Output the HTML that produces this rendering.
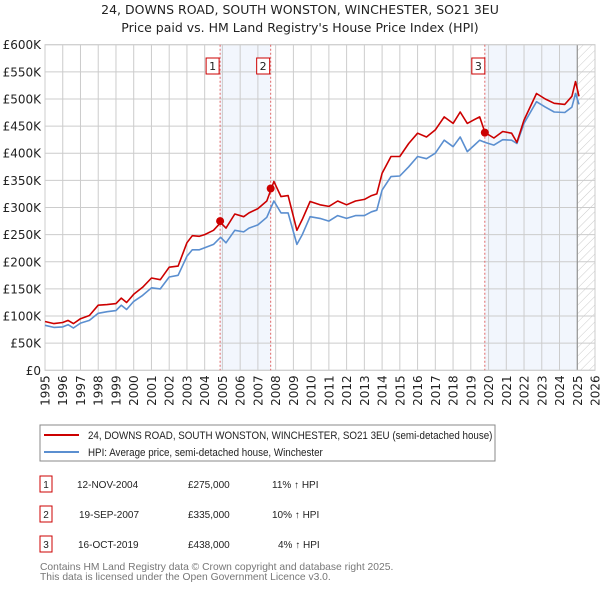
<!DOCTYPE html>
<html><head><meta charset="utf-8"><style>
body{margin:0;background:#fff;font-family:"Liberation Sans","DejaVu Sans",sans-serif;}
svg text{font-family:"DejaVu Sans","Liberation Sans",sans-serif;}
svg text.lib{font-family:"Liberation Sans","DejaVu Sans",sans-serif;}
</style></head><body>
<svg id="c" width="600" height="590" xmlns="http://www.w3.org/2000/svg">
<defs><pattern id="hatch" width="6" height="6" patternUnits="userSpaceOnUse" patternTransform="rotate(45)"><line x1="0" y1="0" x2="0" y2="6" stroke="#ccc" stroke-width="1"/></pattern></defs>
<text x="300" y="14" text-anchor="middle" font-size="12.5" fill="#222">24, DOWNS ROAD, SOUTH WONSTON, WINCHESTER, SO21 3EU</text>
<text x="300" y="32" text-anchor="middle" font-size="12.5" fill="#222">Price paid vs. HM Land Registry's House Price Index (HPI)</text>
<g id="plot"></g>
<rect x="40" y="425" width="455" height="36" fill="#fff" stroke="#888"/>
<line x1="44" y1="435" x2="79" y2="435" stroke="#cc0000" stroke-width="2"/>
<text class="lib" x="88" y="439" font-size="9.8" fill="#222" style="font-size:9.8px;transform:scaleY(1.12);transform-origin:88px 439px">24, DOWNS ROAD, SOUTH WONSTON, WINCHESTER, SO21 3EU (semi-detached house)</text>
<line x1="44" y1="452" x2="79" y2="452" stroke="#5b8fd0" stroke-width="2"/>
<text class="lib" x="88" y="456" font-size="9.8" fill="#222" style="font-size:9.8px;transform:scaleY(1.12);transform-origin:88px 456px">HPI: Average price, semi-detached house, Winchester</text>
<g font-size="10" fill="#222">
<g><rect x="40" y="476" width="12" height="16" fill="#fff" stroke="#cc0000"/><text class="lib" x="46" y="488" text-anchor="middle">1</text><text class="lib" x="77" y="488">12-NOV-2004</text><text class="lib" x="188" y="488">£275,000</text><text class="lib" x="272" y="488">11% ↑ HPI</text></g>
<g><rect x="40" y="506" width="12" height="16" fill="#fff" stroke="#cc0000"/><text class="lib" x="46" y="518" text-anchor="middle">2</text><text class="lib" x="79" y="518">19-SEP-2007</text><text class="lib" x="188" y="518">£335,000</text><text class="lib" x="272" y="518">10% ↑ HPI</text></g>
<g><rect x="40" y="536" width="12" height="16" fill="#fff" stroke="#cc0000"/><text class="lib" x="46" y="548" text-anchor="middle">3</text><text class="lib" x="78" y="548">16-OCT-2019</text><text class="lib" x="188" y="548">£438,000</text><text class="lib" x="278" y="548">4% ↑ HPI</text></g>
</g>
<text class="lib" x="40" y="570" font-size="10.3" fill="#777">Contains HM Land Registry data © Crown copyright and database right 2025.</text>
<text class="lib" x="40" y="580" font-size="10.3" fill="#777">This data is licensed under the Open Government Licence v3.0.</text>
</svg>
<script>
const yearsX=[1995.0,1995.5,1996.0,1996.3,1996.6,1997.0,1997.5,1998.0,1998.5,1999.0,1999.3,1999.6,2000.0,2000.5,2001.0,2001.5,2002.0,2002.5,2003.0,2003.3,2003.7,2004.0,2004.5,2004.9,2005.2,2005.7,2006.2,2006.5,2007.0,2007.5,2007.9,2008.3,2008.7,2009.2,2009.5,2009.94,2010.5,2011.0,2011.5,2012.0,2012.5,2013.0,2013.4,2013.7,2014.0,2014.5,2015.0,2015.5,2016.0,2016.5,2017.0,2017.5,2018.0,2018.4,2018.8,2019.2,2019.5,2019.8,2020.3,2020.8,2021.3,2021.6,2022.0,2022.7,2023.2,2023.7,2024.3,2024.7,2024.9,2025.1];
const hpiValues=[83,79,80,84,78,87,92,105,108,110,120,112,127,138,152,150,172,175,210,222,222,226,232,245,235,258,255,262,268,282,312,290,290,232,250,283,280,275,285,280,285,285,292,295,332,357,358,375,394,390,400,424,412,430,403,415,424,420,415,425,424,418,455,495,485,476,475,485,510,490];
const priceValues=[90,86,88,92,86,95,101,120,121,123,133,125,140,153,170,167,190,192,235,248,247,250,258,272,262,288,283,290,298,312,348,320,322,258,278,311,305,302,312,305,312,315,322,325,363,394,394,418,437,430,443,467,455,476,455,462,467,438,428,440,437,420,461,510,500,492,490,505,532,505];
const saleYears=[2004.87,2007.72,2019.79];
const salePrices=[275,335,438];
const saleLabels=["1","2","3"];
const yTicks=[0,50,100,150,200,250,300,350,400,450,500,550,600];
const yTickLabels=["£0","£50K","£100K","£150K","£200K","£250K","£300K","£350K","£400K","£450K","£500K","£550K","£600K"];
const xTicks=[1995,1996,1997,1998,1999,2000,2001,2002,2003,2004,2005,2006,2007,2008,2009,2010,2011,2012,2013,2014,2015,2016,2017,2018,2019,2020,2021,2022,2023,2024,2025,2026];

const L=45,R=595,T=44.7,B=370.3;
const xs=y=>L+(y-1995)/31*(R-L);
const ys=v=>B-v/600*(B-T);
const NS="http://www.w3.org/2000/svg";
const g=document.getElementById('plot');
function mk(t,a,p){const e=document.createElementNS(NS,t);for(const k in a)e.setAttribute(k,a[k]);(p||g).appendChild(e);return e;}
const b1=mk('rect',{x:xs(saleYears[0]),y:T,width:xs(saleYears[1])-xs(saleYears[0]),height:B-T,fill:'#edf2fc',opacity:0.7});


const b2=mk('rect',{x:xs(saleYears[2]),y:T,width:xs(2025)-xs(saleYears[2]),height:B-T,fill:'#edf2fc',opacity:0.7});


const hz=mk('rect',{x:xs(2025),y:T,width:R-xs(2025),height:B-T,fill:'url(#hatch)'});


yTicks.forEach((v,i)=>{
 mk('line',{x1:L,x2:R,y1:ys(v),y2:ys(v),stroke:'#ccc','stroke-width':1});
 const t=mk('text',{x:L-4,y:ys(v)+4.5,'text-anchor':'end','font-size':12,fill:'#222'});
 t.textContent=yTickLabels[i];
 
 
});
xTicks.forEach(y=>{
 mk('line',{x1:xs(y),x2:xs(y),y1:T,y2:B,stroke:'#ccc','stroke-width':1});
 const t=mk('text',{x:0,y:0,'text-anchor':'end','font-size':12,fill:'#222',transform:`translate(${xs(y)+4.5},${B+5}) rotate(-90)`});
 t.textContent=y;
 
 
});
mk('line',{x1:xs(2025),x2:xs(2025),y1:T,y2:B,stroke:'#888','stroke-width':1});
mk('rect',{x:L,y:T,width:R-L,height:B-T,fill:'none',stroke:'#ccc'});
saleYears.forEach((y,i)=>{
 mk('line',{x1:xs(y),x2:xs(y),y1:T,y2:B,stroke:'#e06666','stroke-width':1,'stroke-dasharray':'2,2'});
});
function line(vals,color,name){
 const d=vals.map((v,i)=>(i?'L':'M')+xs(yearsX[i]).toFixed(1)+','+ys(v).toFixed(1)).join('');
 const p=mk('path',{d:d,fill:'none',stroke:color,'stroke-width':1.6,'stroke-linejoin':'round'});
 
 
}
line(hpiValues,'#5b8fd0','hpi-line');
line(priceValues,'#cc0000','price-line');
saleYears.forEach((y,i)=>{
 const c=mk('circle',{cx:xs(y),cy:ys(salePrices[i]),r:4,fill:'#cc0000'});
 
 
 const bx=xs(y)-(i<2?8:7)-6;
 const r=mk('rect',{x:bx,y:58,width:13,height:16,fill:'#fff',stroke:'#cc0000'});
 
 
 const t=mk('text',{x:bx+6.5,y:70,'text-anchor':'middle','font-size':11,fill:'#222'});
 t.textContent=saleLabels[i];
});
</script>
</body></html>
